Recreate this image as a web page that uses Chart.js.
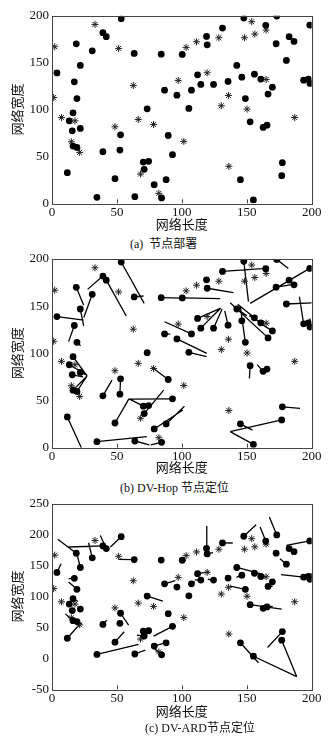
<!DOCTYPE html>
<html>
<head>
<meta charset="utf-8">
<script src="https://cdn.jsdelivr.net/npm/chart.js@4.4.1/dist/chart.umd.min.js"></script>
<style>
body{margin:0;background:#fff;width:335px;height:741px;position:relative;overflow:hidden}
canvas{position:absolute;left:0}
.cap{position:absolute;font-size:12px;font-family:'Liberation Serif','Noto Sans CJK SC',serif;white-space:pre;color:#111;line-height:14px}
</style>
</head>
<body>
<canvas id="chartA" width="335" height="236" style="top:0"></canvas>
<div class="cap" style="left:130px;top:237px">(a)  节点部署</div>
<canvas id="chartB" width="335" height="230" style="top:248px"></canvas>
<div class="cap" style="left:120px;top:481px">(b) DV-Hop 节点定位</div>
<canvas id="chartC" width="335" height="248" style="top:493px"></canvas>
<div class="cap" style="left:145px;top:721px">(c) DV-ARD节点定位</div>
<script>
// ===== unknown nodes (dots) =====
const nodeX = [3.8,18.7,21.8,17.2,19.2,16.2,31,39.2,41.8,53.3,63.3,73.3,84.1,86.7,96.2,100.3,105.4,107.4,112.1,114.6,119,119.5,124.4,131.3,135.6,142.3,146.2,147.7,148.9,155.9,160.8,164.6,166.4,169.7,172.6,173.1,180.5,182.6,186.4,193.8,197.4,198.7,198.5,13.3,15.6,21.8,16.2,19.2,11.8,39.2,52.8,52.3,48.5,34.6,63.8,70.3,74.4,71,78.7,84.4,87.9,89.5,92.8,152.6,162.6,165.6,145.1,155.1,177.4,176.9];
const nodeY = [139,170,147,129.5,111.7,96.5,162.6,181.9,177.6,196.8,159.8,100.7,159,120.6,115.3,158.7,101.1,120.6,137,126.7,177.9,169,126.7,186.8,129.9,147,134.5,197.5,111.7,137.7,132.4,189.7,116.4,123.8,170.1,199.6,152.3,177.6,172.6,131.3,132.4,127.8,190,87.9,77.3,79.8,61,59.6,32.6,55,73,56.7,26.2,6.4,7.1,44,44.7,36.2,19.9,5.7,25.2,72.3,51.8,86.9,80.9,83.3,25.2,3.5,43.3,29.4];

// ===== anchor nodes (asterisks) =====
const anchorX = [2.1,1.3,33.1,51.3,62.6,97.2,103.3,111.3,119.5,128.5,130.4,135.9,148.2,153.8,156.2,150.2,164.9,164.9,7.3,17.7,14.9,21.3,48.5,66.4,78.2,101.5,68.2,82.3,136.2,186.9];
const anchorY = [166.9,112.8,190.7,165.1,125.6,131,166.2,172.2,139.1,176.5,104,115,176.5,193.6,180.4,100.4,184.7,132,91.5,87.9,65.6,54.3,81.6,89.4,84,66,31.2,10.6,39.4,91.5];

// ===== DV-Hop estimates =====
const hopX = [24.4,24.4,24.4,12.8,22,27,24.5,27.4,57.2,71,70.5,74,100,91,119.2,129.5,119,86.7,130,130,121,139.7,131,165,133,150,146,151.3,145,143,152,162,137.2,160,186,182,200,182,186.4,190.5,199,200,152.6,27,24,27,27,27,22.6,46.2,52.3,52.5,59,73,75,59,71,86,100.8,76,102,76.9,59,152,158,160,154.4,137.2,191,137.2];
const hopY = [135.3,151,129,112.4,108,76,138,167.8,139.6,153,160.8,98,158.5,120.3,100,158,96.5,133.5,148,148,176,164.3,147,190,145,140,141,154.8,150,152,140,190,153.7,132,173,190,153.6,177.6,172.6,160,137,130,153,77,75,77,76,76,0,71.7,58,57,51.2,11.7,3,52,46,61,40,3,44,85.2,51.5,73.5,88,82,18.7,17,41.7,17];

// ===== DV-ARD estimates =====
const ardX = [7,4.4,19,12.8,12.8,20,28.2,12.8,37.2,45,51.3,85.4,84.1,94.9,98,103,105.4,110,121,110,119.2,124,120,139.2,137,160.3,142,157.2,137.2,158,165,160.3,170,170,172.6,167.4,175.6,182.6,186.4,176.4,197.4,200,180.5,13.3,15.6,21.8,10.3,23,21.8,42.3,59,52.3,55.6,66.7,71.8,70.3,74.4,65.4,87,78.2,87.9,89.5,78.2,176.9,162.6,170,159,188.5,166,188.5];
const ardY = [153.2,192.5,171,129,123.7,92,187,180.1,198.9,180,160.2,92.5,159,125.8,114,158.7,101.1,124,139.8,127,214,171,128,186.6,132,137.1,131,216.1,116.7,137,131.7,212.4,117,124,170.1,228.5,161.3,177.6,172.6,135.5,132.4,138,182.8,87.9,77.3,79.8,72,56,56.5,61.8,53.8,56.7,43,22.6,13.4,44,44.7,37.6,25,17.2,25.2,72.3,36,79.6,80.9,84,-7,-29.6,17.7,-29.6];

const xTitle = "网络长度";
const yTitle = "网络宽度";
const numFont = "'Liberation Serif', 'Noto Sans CJK SC', serif";

function toPoints(xs, ys){
  return xs.map((x,i)=>({x:x, y:ys[i]}));
}

function errorLines(estX, estY){
  const pts = [];
  nodeX.forEach((x,i)=>{
    pts.push({x:x, y:nodeY[i]});
    pts.push({x:estX[i], y:estY[i]});
    pts.push({x:null, y:null});
  });
  return pts;
}

// frame around plot + inward ticks on x axis
const framePlugin = {
  id:'frame',
  afterDraw(chart){
    const {ctx, chartArea:a, scales} = chart;
    ctx.save();
    ctx.strokeStyle = '#444';
    ctx.lineWidth = 1;
    ctx.strokeRect(Math.round(a.left)+0.5, Math.round(a.top)+0.5, Math.round(a.right-a.left), Math.round(a.bottom-a.top));
    ctx.beginPath();
    scales.x.ticks.forEach(t=>{
      const px = Math.round(scales.x.getPixelForValue(t.value))+0.5;
      ctx.moveTo(px, a.bottom); ctx.lineTo(px, a.bottom-4);
    });
    ctx.stroke();
    ctx.restore();
  }
};

function makeChart(id, cfg){
  const datasets = [{
    data: toPoints(nodeX, nodeY),
    pointRadius: 3.4,
    pointBackgroundColor: '#000',
    pointBorderWidth: 0,
    order: 0
  },{
    data: toPoints(anchorX, anchorY),
    pointStyle: 'star',
    pointRadius: 3.5,
    pointBorderColor: '#222',
    pointBorderWidth: 1,
    order: 1
  }];
  if(cfg.estX){
    datasets.push({
      data: errorLines(cfg.estX, cfg.estY),
      showLine: true,
      spanGaps: false,
      pointRadius: 0,
      borderColor: '#000',
      borderWidth: 1.3,
      order: 2
    });
  }
  return new Chart(document.getElementById(id).getContext('2d'), {
    type: 'scatter',
    data: {datasets},
    options: {
      responsive: false,
      animation: false,
      devicePixelRatio: 1,
      layout: {padding: {top: cfg.padTop, right: 23.3, left: 0, bottom: 0}},
      plugins: {legend: {display: false}, tooltip: {enabled: false}},
      scales: {
        x: {
          type: 'linear', min: 0, max: 200,
          grid: {display: false, drawTicks: false},
          border: {display: false},
          ticks: {stepSize: 50, padding: 1, color: '#111', font: {family: numFont, size: 13}},
          title: {display: true, text: xTitle, color: '#111', padding: {top: 0, bottom: cfg.titlePad},
                  font: {family: numFont, size: 13}},
          afterFit: s => { s.height = cfg.xHeight; }
        },
        y: {
          type: 'linear', min: cfg.yMin, max: cfg.yMax,
          grid: {display: false, drawTicks: false},
          border: {display: false},
          ticks: {stepSize: 50, padding: 3, color: '#111', font: {family: numFont, size: 13}},
          title: {display: true, text: yTitle, color: '#111', padding: {top: 11, bottom: 0},
                  font: {family: numFont, size: 13}},
          afterFit: s => { s.width = 52; }
        }
      }
    },
    plugins: [framePlugin]
  });
}

makeChart('chartA', {padTop: 15.7, xHeight: 32.7, titlePad: 2.2, yMin: 0, yMax: 200});
makeChart('chartB', {padTop: 11, xHeight: 30.3, titlePad: 1.2, yMin: 0, yMax: 200, estX: hopX, estY: hopY});
makeChart('chartC', {padTop: 9.3, xHeight: 51.7, titlePad: 20.2, yMin: -50, yMax: 250, estX: ardX, estY: ardY});
</script>
</body>
</html>
